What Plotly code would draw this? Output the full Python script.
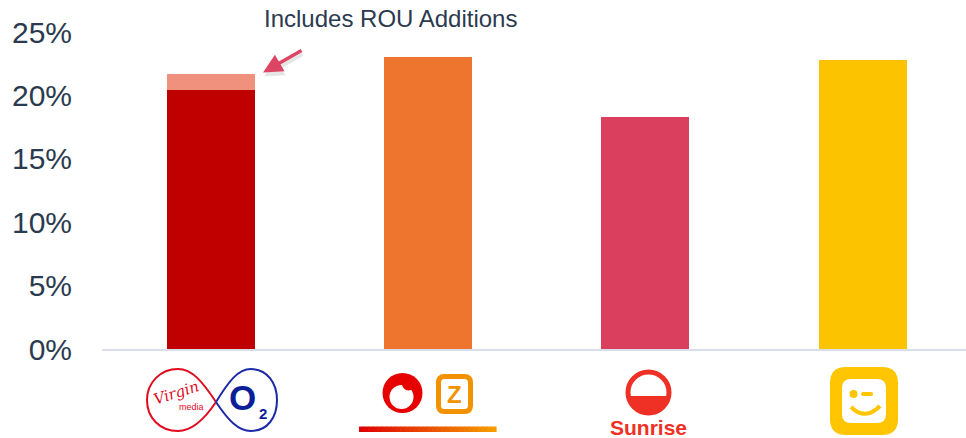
import math
import plotly.graph_objects as go

# ---------------- data ----------------
categories = ["Virgin Media O2", "VodafoneZiggo", "Sunrise", "Telenet"]
base_values = [20.4, 23.0, 18.3, 22.8]          # % (organic)
rou_additions = [1.3, 0.0, 0.0, 0.0]            # % ROU additions on top
bar_colors = ["#c00000", "#ee752e", "#da405e", "#fcc400"]
rou_color = "#f0917e"
y_ticks = [0, 5, 10, 15, 20, 25]
y_tick_labels = [f"{v}%" for v in y_ticks]
note_text = "Includes ROU Additions"

TXT = "#2b3a4f"
FONT = "Liberation Sans, Arial, sans-serif"

# plot-area geometry (pixels)
L, T, W, H = 102, 32, 864, 317


def px(x):
    return (x - L) / W


def py(y):
    return (T + H - y) / H


def pt(x, y):
    return f"{px(x):.5f},{py(y):.5f}"


fig = go.Figure()
fig.add_trace(go.Bar(x=categories, y=base_values, marker_color=bar_colors,
                     marker_line_width=0, width=0.405, showlegend=False,
                     hoverinfo="skip"))
fig.add_trace(go.Bar(x=categories, y=rou_additions, marker_color=rou_color,
                     marker_line_width=0, width=0.405, showlegend=False,
                     hoverinfo="skip"))

shapes = []
annos = []


def rrect(x0, y0, x1, y1, r):
    return (f"M {pt(x0 + r, y0)} L {pt(x1 - r, y0)} Q {pt(x1, y0)} {pt(x1, y0 + r)} "
            f"L {pt(x1, y1 - r)} Q {pt(x1, y1)} {pt(x1 - r, y1)} "
            f"L {pt(x0 + r, y1)} Q {pt(x0, y1)} {pt(x0, y1 - r)} "
            f"L {pt(x0, y0 + r)} Q {pt(x0, y0)} {pt(x0 + r, y0)} Z")


def circle(cx, cy, r, fill=None, line=None, lw=0):
    shapes.append(dict(type="circle", xref="paper", yref="paper",
                       x0=px(cx - r), x1=px(cx + r), y0=py(cy + r), y1=py(cy - r),
                       fillcolor=fill if fill else "rgba(0,0,0,0)",
                       line=dict(color=line if line else "rgba(0,0,0,0)", width=lw),
                       layer="above"))


def path(d, fill=None, line=None, lw=0):
    shapes.append(dict(type="path", xref="paper", yref="paper", path=d,
                       fillcolor=fill if fill else "rgba(0,0,0,0)",
                       line=dict(color=line if line else "rgba(0,0,0,0)", width=lw),
                       layer="above"))


def text(x, y, s, size, color, bold=False, angle=0, family=FONT):
    annos.append(dict(xref="paper", yref="paper", x=px(x), y=py(y), text=s,
                      showarrow=False, xanchor="center", yanchor="middle",
                      textangle=angle,
                      font=dict(size=size, color=color, family=family,
                                weight="bold" if bold else "normal")))


# ---- Virgin Media O2 logo ----
cxo = 216
path(f"M {pt(cxo, 402)} C {pt(202, 381)} {pt(192, 369)} {pt(178, 369)} "
     f"C {pt(160, 369)} {pt(147, 383)} {pt(147, 400)} "
     f"C {pt(147, 418)} {pt(160, 431)} {pt(178, 431)} "
     f"C {pt(192, 431)} {pt(204, 420)} {pt(cxo, 402)}",
     line="#e10a1e", lw=2)
path(f"M {pt(cxo, 402)} C {pt(229, 381)} {pt(238, 369)} {pt(251, 369)} "
     f"C {pt(267, 369)} {pt(277, 383)} {pt(277, 400)} "
     f"C {pt(277, 418)} {pt(267, 431)} {pt(251, 431)} "
     f"C {pt(238, 431)} {pt(228, 420)} {pt(cxo, 402)}",
     line="#1a2aa8", lw=2)
text(176, 393, "<i>Virgin</i>", 15, "#e10a1e", angle=-18, family="DejaVu Serif, serif")
text(191, 407, "media", 9, "#e10a1e")
text(242, 397, "O", 35, "#0c1f96", bold=True)
text(263, 413, "2", 15, "#0c1f96", bold=True)

# ---- VodafoneZiggo logo ----
circle(402.5, 393, 20, fill="#e60000")
circle(401.5, 397, 12, fill="#ffffff")
circle(408.5, 384, 6.5, fill="#e60000")
path(rrect(438.5, 376.5, 470.5, 411.5, 6), fill="#ffffff", line="#f39200", lw=5)
text(454.5, 394.5, "Z", 24, "#f39200", bold=True)
n_grad = 30
gx0, gx1 = 359, 496
c0, c1 = (224, 0, 0), (246, 156, 0)
for i in range(n_grad):
    f = i / (n_grad - 1)
    col = "rgb(%d,%d,%d)" % tuple(round(a + (b - a) * f) for a, b in zip(c0, c1))
    xa = gx0 + (gx1 - gx0) * i / n_grad
    xb = gx0 + (gx1 - gx0) * (i + 1) / n_grad + 0.6
    shapes.append(dict(type="rect", xref="paper", yref="paper",
                       x0=px(xa), x1=px(xb), y0=py(432), y1=py(426.5),
                       fillcolor=col, line=dict(width=0), layer="above"))

# ---- Sunrise logo ----
scx, scy, sr = 648.5, 392.5, 20.5
sred = "#ee3124"
circle(scx, scy, sr, line=sred, lw=5)
yc = 396
t0 = math.asin((yc - scy) / sr)
pts = [(scx + sr * math.cos(t), scy + sr * math.sin(t))
       for t in [t0 + (math.pi - 2 * t0) * k / 30 for k in range(31)]]
d = "M " + " L ".join(pt(x, y) for x, y in pts) + " Z"
path(d, fill=sred)
text(648, 427, "Sunrise", 21, sred, bold=True)

# ---- Telenet logo ----
yel = "#ffc500"
path(rrect(830, 367, 898, 435, 16), fill=yel)
path(rrect(842, 379, 886, 423, 9), fill="#ffffff")
circle(853.5, 394, 4, fill=yel)
path(rrect(861, 392, 873, 396, 2), fill=yel)
path(f"M {pt(851, 407)} Q {pt(865, 421)} {pt(880, 406)}", line=yel, lw=4)

# ---- annotation arrow with shadow ----
annos.append(dict(x=0.245, y=21.5, xref="x", yref="y", ax=40, ay=-23,
                  showarrow=True, arrowhead=2, arrowsize=1.1, arrowwidth=3.5,
                  arrowcolor="rgba(60,60,60,0.13)", text=""))
annos.append(dict(x=0.241, y=21.8, xref="x", yref="y", ax=40, ay=-23,
                  showarrow=True, arrowhead=2, arrowsize=1.1, arrowwidth=3.5,
                  arrowcolor="#dc4564", text=""))
annos.append(dict(x=0.828, y=py(18.5), xref="x", yref="paper", text=note_text,
                  showarrow=False, xanchor="center", yanchor="middle",
                  font=dict(size=24, color=TXT, family=FONT)))

fig.update_layout(
    barmode="stack",
    width=966, height=438,
    margin=dict(l=L, r=966 - L - W, t=T, b=438 - T - H, pad=0),
    paper_bgcolor="white", plot_bgcolor="white",
    font=dict(family=FONT, color=TXT),
    shapes=shapes, annotations=annos,
    bargap=0,
)
fig.update_xaxes(range=[-0.5, 3.476], showticklabels=False, showgrid=False,
                 zeroline=False, showline=True, linecolor="#d9dfea", linewidth=2,
                 ticks="", fixedrange=True, automargin=False)
fig.update_yaxes(range=[0, 25], tickvals=y_ticks, ticktext=y_tick_labels,
                 showgrid=False, zeroline=False, showline=False,
                 ticks="outside", ticklen=23, tickcolor="rgba(0,0,0,0)",
                 tickfont=dict(size=30, color=TXT, family=FONT), fixedrange=True,
                 automargin=False)

fig.write_html("out.html", config={"displayModeBar": False},
               post_script="document.body.style.margin='0';document.body.style.padding='0';")
